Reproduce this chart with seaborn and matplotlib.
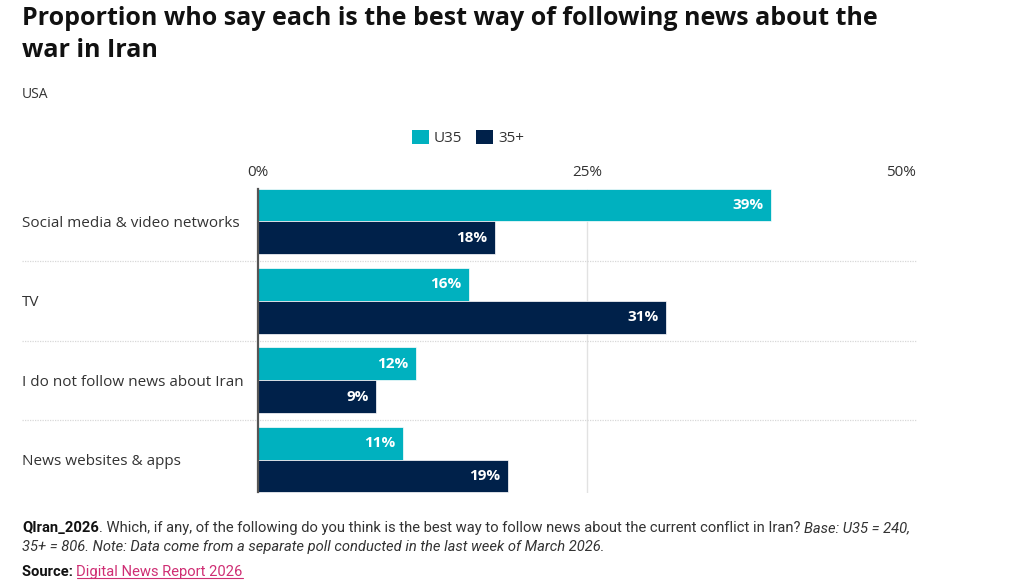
import pandas as pd
import seaborn as sns
import matplotlib.pyplot as plt
from matplotlib.patches import Patch
from matplotlib.lines import Line2D

categories = ["Social media & video networks", "TV", "I do not follow news about Iran", "News websites & apps"]
groups = ["U35", "35+"]
u35 = [39, 16, 12, 11]
over35 = [18, 31, 9, 19]
ticks = [0, 25, 50]
tick_labels = ["0%", "25%", "50%"]
colors = ["#00b1bf", "#00214a"]

df = pd.DataFrame({
    "category": categories * 2,
    "group": [groups[0]] * 4 + [groups[1]] * 4,
    "value": u35 + over35,
})

sns.set_style("white")
plt.rcParams["font.family"] = ["Open Sans", "DejaVu Sans"]
narrow = ["Liberation Sans Narrow", "Roboto", "DejaVu Sans"]

W, H = 1024, 584
fig = plt.figure(figsize=(W / 100, H / 100), dpi=100)
ax = fig.add_axes([258 / W, (H - 492.5) / H, 658 / W, 304 / H])

sns.barplot(data=df, y="category", x="value", hue="group", order=categories,
            hue_order=groups, palette=colors, orient="h", width=0.83,
            saturation=1, edgecolor="white", linewidth=0.5, legend=False, ax=ax)

ax.set_xlim(0, 50)
ax.set_ylim(3.415, -0.415)
ax.set_xlabel("")
ax.set_ylabel("")

# ticks on top, last label pulled inside
ax.xaxis.tick_top()
ax.set_xticks(ticks)
ax.set_xticklabels(tick_labels, fontsize=11, color="#333333")
ax.get_xticklabels()[-1].set_horizontalalignment("right")
ax.tick_params(axis="x", length=0, pad=6)

ax.set_yticks(range(len(categories)))
ax.set_yticklabels(categories, ha="left", fontsize=11, color="#333333")
ax.tick_params(axis="y", length=0, pad=236 * 0.72)

for s in ["top", "right", "bottom"]:
    ax.spines[s].set_visible(False)
ax.spines["left"].set_color("#555555")
ax.spines["left"].set_linewidth(1.6)
ax.spines["left"].set_zorder(5)

ax.axvline(25, color="#e2e2e2", lw=1, zorder=0)
for y in [0.5, 1.5, 2.5]:
    ax.plot([-236 / 658, 1], [y, y], transform=ax.get_yaxis_transform(),
            clip_on=False, color="#d8d8d8", lw=0.9, ls=(0, (1, 1)), zorder=0)

# value labels inside bar ends
for cont in ax.containers:
    for patch, val in zip(cont.patches, cont.datavalues):
        ax.annotate(f"{val:.0f}%", (patch.get_width(), patch.get_y() + patch.get_height() / 2),
                    xytext=(-5.5, 0), textcoords="offset points", ha="right", va="center",
                    color="white", fontweight="bold", fontsize=11)

# legend
handles = [Patch(facecolor=c, edgecolor="none") for c in colors]
fig.legend(handles, groups, loc="center", bbox_to_anchor=(468 / W, 1 - 138 / H), ncol=2,
           frameon=False, handlelength=1.1, handleheight=1.1, handletextpad=0.35,
           columnspacing=0.9, fontsize=11, labelcolor="#333333")

fig.text(22 / W, 1 - 6 / H,
         "Proportion who say each is the best way of following news about the\nwar in Iran",
         fontsize=18, fontweight="bold", color="#111111", va="top", linespacing=1.38)
fig.text(22 / W, 1 - 95 / H, "USA", fontsize=10, color="#333333", va="center")

# footnote built from styled runs
renderer = fig.canvas.get_renderer()


def runs(x, y, parts):
    out = []
    for text, kw in parts:
        style = {"va": "baseline", "family": narrow, "fontsize": 10.6, "color": "#333333"}
        style.update(kw)
        t = fig.text(x / W, y / H, text, **style)
        bb = t.get_window_extent(renderer)
        out.append((t, bb))
        x = bb.x1
    return out


runs(22, H - 532, [
    ("QIran_2026", {"fontweight": "bold", "color": "#111111"}),
    (". Which, if any, of the following do you think is the best way to follow news about the current conflict in Iran? ", {}),
    ("Base: U35 = 240,", {"style": "italic"}),
])
runs(22, H - 551, [
    ("35+ = 806. Note: Data come from a separate poll conducted in the last week of March 2026.", {"style": "italic"}),
])
src = runs(22, H - 576, [
    ("Source: ", {"fontweight": "bold", "color": "#111111"}),
    ("Digital News Report 2026", {"color": "#cf2e74"}),
])
bb = src[-1][1]
fig.add_artist(Line2D([bb.x0 / W, bb.x1 / W], [(H - 578) / H] * 2, color="#cf2e74", lw=0.8))

fig.savefig("out.png", dpi=100)
